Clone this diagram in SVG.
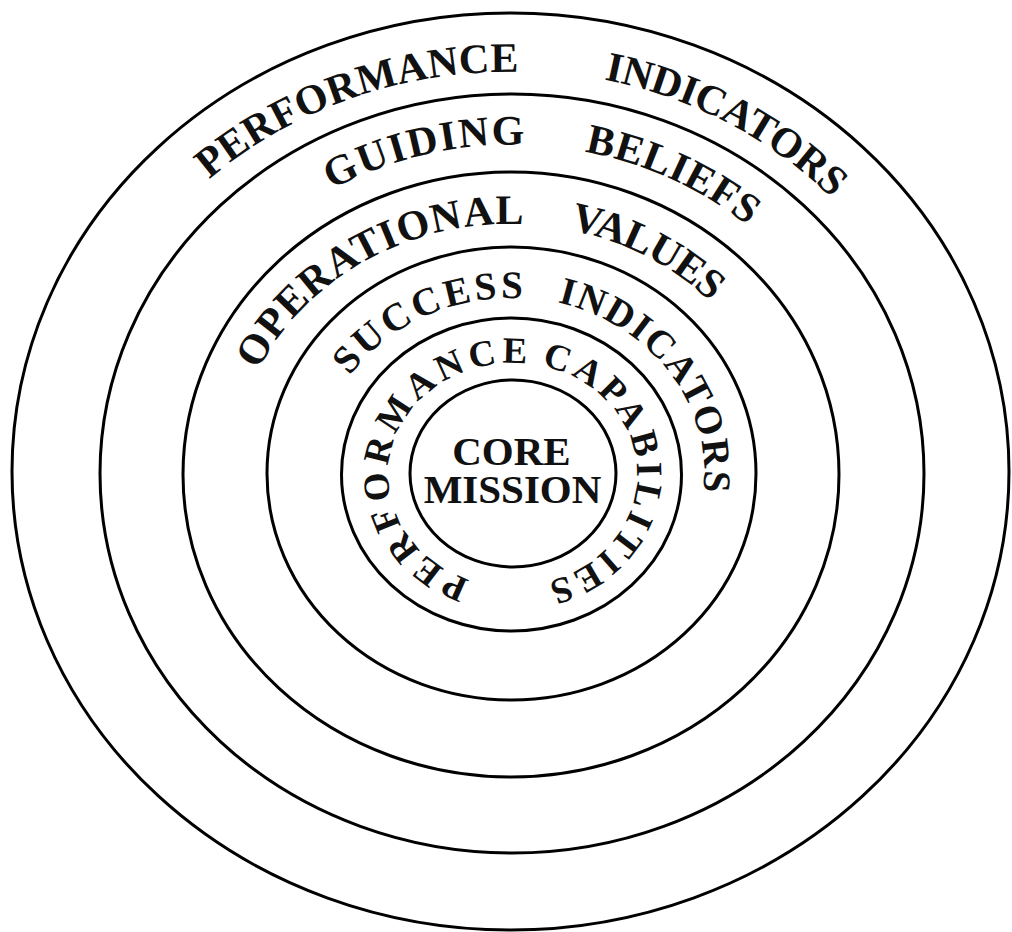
<svg xmlns="http://www.w3.org/2000/svg" xmlns:xlink="http://www.w3.org/1999/xlink" width="1012" height="932" viewBox="0 0 1012 932">
<style>
.ring{fill:none;stroke:#000;stroke-width:3}
.lbl{font-family:"Liberation Serif","Times New Roman",serif;font-weight:bold;fill:#111}
.r1{font-size:42px}
.r2{font-size:42px}
.r3{font-size:42px}
.r4{font-size:39px}
.r5{font-size:37px}
</style>
<defs>
<path id="p1a" d="M209.2 179.3 A440 401 0 0 1 822.9 753.8"/>
<path id="p1b" d="M604.2 79.7 A440 401 0 0 1 431.8 866.0"/>
<path id="p2a" d="M331.9 189.6 A358 328.5 0 0 1 702.8 751.5"/>
<path id="p2b" d="M584.6 151.8 A358 328.5 0 0 1 451.7 797.3"/>
<path id="p3a" d="M258.2 370.2 A278 250.5 0 0 1 767.6 570.8"/>
<path id="p3b" d="M569.7 229.7 A278 250.5 0 0 1 461.8 721.0"/>
<path id="p4a" d="M349.9 376.1 A194 176 0 0 1 676.7 565.7"/>
<path id="p4b" d="M557.4 302.5 A194 176 0 0 1 472.2 645.8"/>
<path id="p5a" d="M469.9 579.9 A125 112 0 0 1 550 367.8"/>
<path id="p5b" d="M541.1 365.6 A125 112 0 0 1 487.2 584.3"/>
</defs>
<g id="performance-indicators">
<ellipse class="ring" cx="510.5" cy="471.5" rx="498.5" ry="458.5"/>
<text class="lbl r1" letter-spacing="0.3"><textPath xlink:href="#p1a" href="#p1a">PERFORMANCE</textPath></text>
<text class="lbl r1" letter-spacing="-0.5"><textPath xlink:href="#p1b" href="#p1b">INDICATORS</textPath></text>
</g>
<g id="guiding-beliefs">
<ellipse class="ring" cx="512" cy="473.5" rx="412" ry="379.5"/>
<text class="lbl r2" letter-spacing="1.8"><textPath xlink:href="#p2a" href="#p2a">GUIDING</textPath></text>
<text class="lbl r2" letter-spacing="0.5"><textPath xlink:href="#p2b" href="#p2b">BELIEFS</textPath></text>
</g>
<g id="operational-values">
<ellipse class="ring" cx="511" cy="474.5" rx="328" ry="302.5"/>
<text class="lbl r3" letter-spacing="1"><textPath xlink:href="#p3a" href="#p3a">OPERATIONAL</textPath></text>
<text class="lbl r3" letter-spacing="-1"><textPath xlink:href="#p3b" href="#p3b">VALUES</textPath></text>
</g>
<g id="success-indicators">
<ellipse class="ring" cx="511.5" cy="473.5" rx="244.5" ry="226.5"/>
<text class="lbl r4" letter-spacing="3.6"><textPath xlink:href="#p4a" href="#p4a">SUCCESS</textPath></text>
<text class="lbl r4" letter-spacing="1.75"><textPath xlink:href="#p4b" href="#p4b">INDICATORS</textPath></text>
</g>
<g id="performance-capabilities">
<ellipse class="ring" cx="511.5" cy="474.5" rx="170" ry="156.5"/>
<text class="lbl r5" letter-spacing="5"><textPath xlink:href="#p5a" href="#p5a">PERFORMANCE</textPath></text>
<text class="lbl r5" letter-spacing="4"><textPath xlink:href="#p5b" href="#p5b">CAPABILITIES</textPath></text>
</g>
<g id="core-mission">
<ellipse class="ring" cx="513" cy="473.5" rx="103" ry="93.5"/>
<text class="lbl" font-size="41" text-anchor="middle" x="511.5" y="465">CORE</text>
<text class="lbl" font-size="41" text-anchor="middle" x="512.5" y="503">MISSION</text>
</g>
<g id="connectors"/>
</svg>
